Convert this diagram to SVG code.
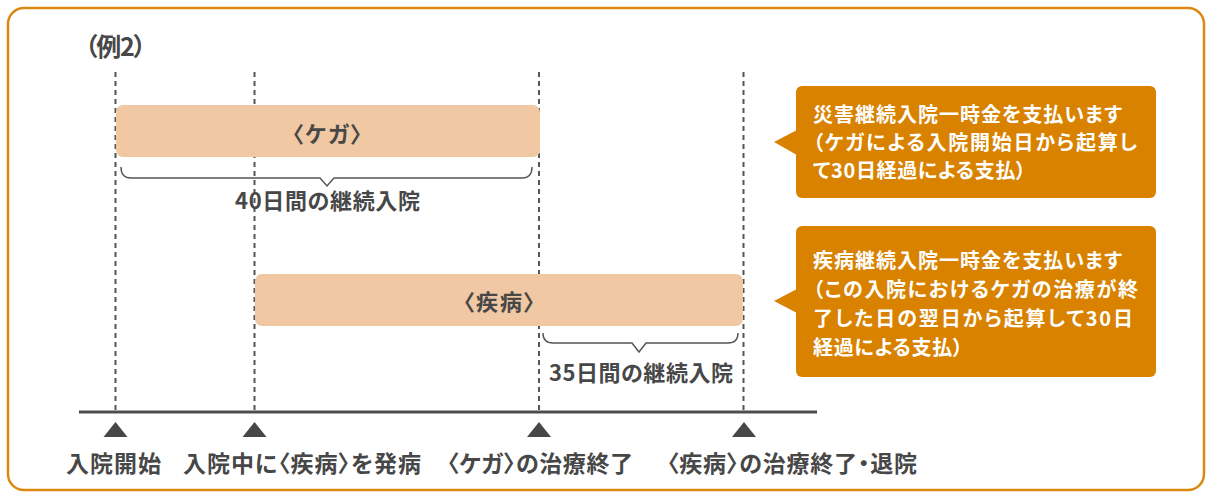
<svg xmlns="http://www.w3.org/2000/svg" width="1208" height="492" viewBox="0 0 1208 492">
<style>
text{font-family:"Noto Sans CJK JP","Noto Sans",sans-serif;font-weight:700;font-feature-settings:"palt";}
.dk{fill:#474747;}
.wt{fill:#ffffff;font-size:20px;}
.lbl{font-size:23px;}
.bar{fill:#f0c8a4;}
.call{fill:#d98200;}
.dash{stroke:#555;stroke-width:2;stroke-dasharray:5 4;fill:none;}
.brace{stroke:#555;stroke-width:1.4;fill:none;stroke-linejoin:miter;}
.tri{fill:#474747;}
</style>
<rect x="8" y="8" width="1196" height="482" rx="16" fill="#ffffff" stroke="#dc8912" stroke-width="2.5"/>
<text id="title" class="dk" x="85" y="56" font-size="25" textLength="61">（例2）</text>
<g id="connectors">
<line class="dash" x1="115.5" y1="72" x2="115.5" y2="411"/>
<line class="dash" x1="254.5" y1="72" x2="254.5" y2="411"/>
<line class="dash" x1="539" y1="72" x2="539" y2="411"/>
<line class="dash" x1="743.5" y1="72" x2="743.5" y2="411"/>
<line x1="79" y1="412" x2="817" y2="412" stroke="#4d4d4d" stroke-width="3"/>
<path class="brace" d="M121,167 Q121,178 131,178 L320,178 L327,186 L334,178 L522,178 Q532,178 532,167"/>
<path class="brace" d="M543,333 Q543,343 553,343 L632,343 L639,352 L646,343 L728,343 Q738,343 738,333"/>
</g>
<g id="bar-kega">
<rect class="bar" x="116" y="105" width="424" height="52" rx="7"/>
<text class="dk" x="292" y="142" font-size="22" textLength="70">〈ケガ〉</text>
</g>
<g id="bar-shippei">
<rect class="bar" x="255" y="274" width="488" height="52" rx="7"/>
<text class="dk" x="463" y="310" font-size="22" textLength="72">〈疾病〉</text>
</g>
<g id="span-40">
<text class="dk" x="235" y="209" font-size="22" textLength="185">40日間の継続入院</text>
</g>
<g id="span-35">
<text class="dk" x="549" y="381" font-size="22" textLength="184">35日間の継続入院</text>
</g>
<g id="callout-1">
<rect class="call" x="796" y="86" width="360" height="112" rx="6"/>
<polygon class="call" points="774,142 797,130 797,155"/>
<text class="wt" x="813" y="122" textLength="309">災害継続入院一時金を支払います</text>
<text class="wt" x="813" y="150" textLength="324">（ケガによる入院開始日から起算し</text>
<text class="wt" x="813" y="178" textLength="213">て30日経過による支払）</text>
</g>
<g id="callout-2">
<rect class="call" x="796" y="226" width="360" height="151" rx="6"/>
<polygon class="call" points="774,301 797,289 797,313"/>
<text class="wt" x="813" y="268" textLength="309">疾病継続入院一時金を支払います</text>
<text class="wt" x="813" y="297" textLength="325">（この入院におけるケガの治療が終</text>
<text class="wt" x="813" y="326" textLength="320">了した日の翌日から起算して30日</text>
<text class="wt" x="813" y="355" textLength="150">経過による支払）</text>
</g>
<g id="m-start">
<polygon class="tri" points="115.5,422 103.5,437 127.5,437"/>
<text class="dk lbl" x="66" y="472" textLength="95">入院開始</text>
</g>
<g id="m-onset">
<polygon class="tri" points="254.5,422 242.5,437 266.5,437"/>
<text class="dk lbl" x="183" y="472" textLength="238">入院中に〈疾病〉を発病</text>
</g>
<g id="m-kega-end">
<polygon class="tri" points="539,422 527,437 551,437"/>
<text class="dk lbl" x="447" y="472" textLength="186">〈ケガ〉の治療終了</text>
</g>
<g id="m-shippei-end">
<polygon class="tri" points="744,422 732,437 756,437"/>
<text class="dk lbl" x="667" y="472" textLength="250">〈疾病〉の治療終了・退院</text>
</g>
</svg>
